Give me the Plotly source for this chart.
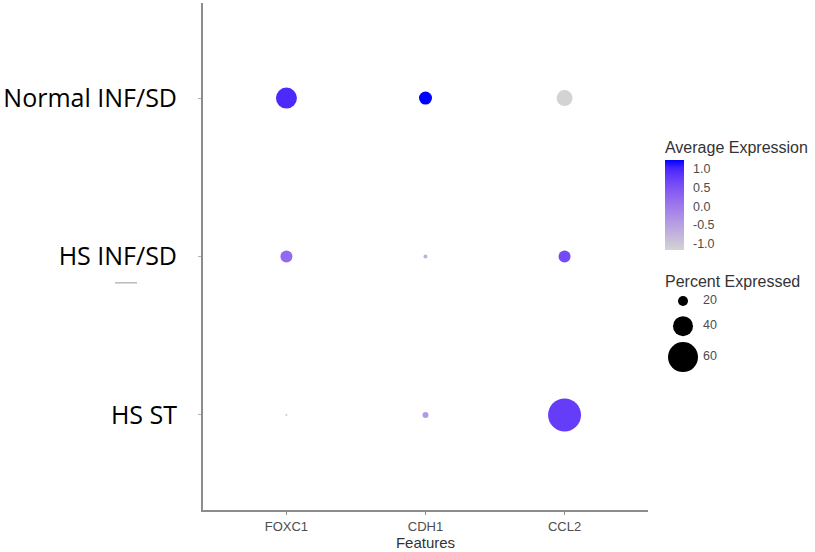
import plotly.graph_objects as go

# ---------------- data ----------------
features = ["FOXC1", "CDH1", "CCL2"]
groups = ["HS ST", "HS INF/SD", "Normal INF/SD"]  # bottom -> top

# percent expressed per group (rows) x feature (cols)
pct_normal = [42, 26, 32]
pct_hs_inf = [24, 8, 24]
pct_hs_st = [4, 12, 66]

# average expression per group x feature
avg_normal = [0.95, 1.22, -1.16]
avg_hs_inf = [0.2, -0.7, 0.6]
avg_hs_st = [-1.0, -0.4, 0.75]

legend_pct = [20, 40, 60]
legend_labels = ["20", "40", "60"]
cbar_vals = [-1.0, -0.5, 0.0, 0.5, 1.0]
cbar_text = ["-1.0", "-0.5", "0.0", "0.5", "1.0"]
cmin, cmax = -1.16, 1.22


# ---------------- colour scale (Lab interpolation lightgrey -> blue) ----------------
def _lin(c):
    c = c / 255.0
    return c / 12.92 if c <= 0.04045 else ((c + 0.055) / 1.055) ** 2.4


def _delin(c):
    c = 12.92 * c if c <= 0.0031308 else 1.055 * c ** (1 / 2.4) - 0.055
    return max(0, min(255, round(c * 255)))


def rgb2lab(rgb):
    r, g, b = [_lin(v) for v in rgb]
    x = (0.4124 * r + 0.3576 * g + 0.1805 * b) / 0.95047
    y = (0.2126 * r + 0.7152 * g + 0.0722 * b) / 1.0
    z = (0.0193 * r + 0.1192 * g + 0.9505 * b) / 1.08883

    def f(t):
        return t ** (1 / 3) if t > 0.008856 else 7.787 * t + 16 / 116

    fx, fy, fz = f(x), f(y), f(z)
    return (116 * fy - 16, 500 * (fx - fy), 200 * (fy - fz))


def lab2rgb(lab):
    L, a, b = lab
    fy = (L + 16) / 116
    fx = fy + a / 500
    fz = fy - b / 200

    def finv(t):
        return t ** 3 if t ** 3 > 0.008856 else (t - 16 / 116) / 7.787

    x, y, z = finv(fx) * 0.95047, finv(fy), finv(fz) * 1.08883
    r = 3.2406 * x - 1.5372 * y - 0.4986 * z
    g = -0.9689 * x + 1.8758 * y + 0.0415 * z
    bb = 0.0557 * x - 0.2040 * y + 1.0570 * z
    return tuple(_delin(v) for v in (r, g, bb))


lo = rgb2lab((211, 211, 211))
hi = rgb2lab((0, 0, 255))
colorscale = []
n = 12
for i in range(n + 1):
    t = i / n
    lab = tuple(lo[k] + (hi[k] - lo[k]) * t for k in range(3))
    r, g, b = lab2rgb(lab)
    colorscale.append([t, f"rgb({r},{g},{b})"])

# ---------------- build figure ----------------
xs, ys, pcts, avgs = [], [], [], []
for grp, p_row, a_row in [
    ("Normal INF/SD", pct_normal, avg_normal),
    ("HS INF/SD", pct_hs_inf, avg_hs_inf),
    ("HS ST", pct_hs_st, avg_hs_st),
]:
    for f_, p, a in zip(features, p_row, a_row):
        xs.append(f_)
        ys.append(grp)
        pcts.append(p)
        avgs.append(a)

SIZEREF = 2.0  # diameter px = pct / SIZEREF

fig = go.Figure()
fig.add_trace(go.Scatter(
    x=xs, y=ys, mode="markers",
    marker=dict(
        size=pcts, sizemode="diameter", sizeref=SIZEREF, sizemin=1,
        color=avgs, colorscale=colorscale, cmin=cmin, cmax=cmax,
        line=dict(width=0), opacity=1,
        colorbar=dict(
            title=dict(text="Average Expression", side="top",
                       font=dict(family="Liberation Sans", size=16, color="#333333")),
            x=0.7549, xanchor="left", xpad=0,
            y=0.5128, yanchor="bottom", ypad=0,
            thickness=19, lenmode="pixels", len=112,
            outlinewidth=0, ticks="outside", ticklen=7,
            tickcolor="rgba(0,0,0,0)", tickvals=cbar_vals, ticktext=cbar_text,
            tickfont=dict(family="Liberation Sans", size=12.5, color="#4d4d4d"),
        ),
    ),
    showlegend=False, hoverinfo="skip",
))

# size legend on a secondary axis pair
fig.add_trace(go.Scatter(
    x=[0.24] * len(legend_pct), y=[0.707, 0.542, 0.339],
    mode="markers", xaxis="x2", yaxis="y2",
    marker=dict(size=legend_pct, sizemode="diameter", sizeref=SIZEREF,
                color="black", line=dict(width=0), opacity=1),
    showlegend=False, hoverinfo="skip",
))
fig.add_trace(go.Scatter(
    x=[0.39] * len(legend_pct), y=[0.707, 0.542, 0.339],
    mode="text", text=legend_labels, textposition="middle right",
    textfont=dict(family="Liberation Sans", size=12.5, color="#4d4d4d"),
    xaxis="x2", yaxis="y2", showlegend=False, hoverinfo="skip",
))

fig.update_layout(
    width=815, height=552, autosize=False,
    margin=dict(l=203, r=0, t=3, b=42, pad=0),
    paper_bgcolor="white", plot_bgcolor="white",
    xaxis=dict(
        domain=[0, 0.7271], automargin=False,
        type="category", categoryorder="array", categoryarray=features,
        range=[-0.6, 2.6], showgrid=False, zeroline=False,
        showline=True, linecolor="#8c8c8c", linewidth=2,
        ticks="outside", ticklen=3, tickcolor="#8c8c8c", tickwidth=1,
        tickfont=dict(family="Liberation Sans", size=13, color="#4d4d4d"),
        title=dict(text="Features", standoff=0,
                   font=dict(family="Liberation Sans", size=15, color="#333333")),
    ),
    yaxis=dict(
        automargin=False,
        type="category", categoryorder="array", categoryarray=groups,
        range=[-0.6, 2.6], showgrid=False, zeroline=False,
        showline=True, linecolor="#8c8c8c", linewidth=2,
        ticks="outside", ticklen=3, tickcolor="#b0b0b0", tickwidth=1,
        ticklabelstandoff=16,
        tickfont=dict(family="Open Sans", size=25, color="black"),
    ),
    xaxis2=dict(domain=[0.732, 0.95], range=[0, 1], visible=False, anchor="y2"),
    yaxis2=dict(domain=[0.2, 0.5], range=[0, 1], visible=False, anchor="x2"),
    annotations=[dict(
        text="Percent Expressed", xref="x2", yref="y2", x=0.09, y=0.838,
        xanchor="left", yanchor="middle", showarrow=False,
        font=dict(family="Liberation Sans", size=16, color="#333333"),
    )],
    shapes=[dict(
        type="line", xref="paper", yref="paper",
        x0=-0.1438, x1=-0.1078, y0=0.448, y1=0.448,
        line=dict(color="#9a9a9a", width=1),
    )],
)

fig.write_html("out.html", config={"displayModeBar": False},
               post_script="document.body.style.margin='0px';")
